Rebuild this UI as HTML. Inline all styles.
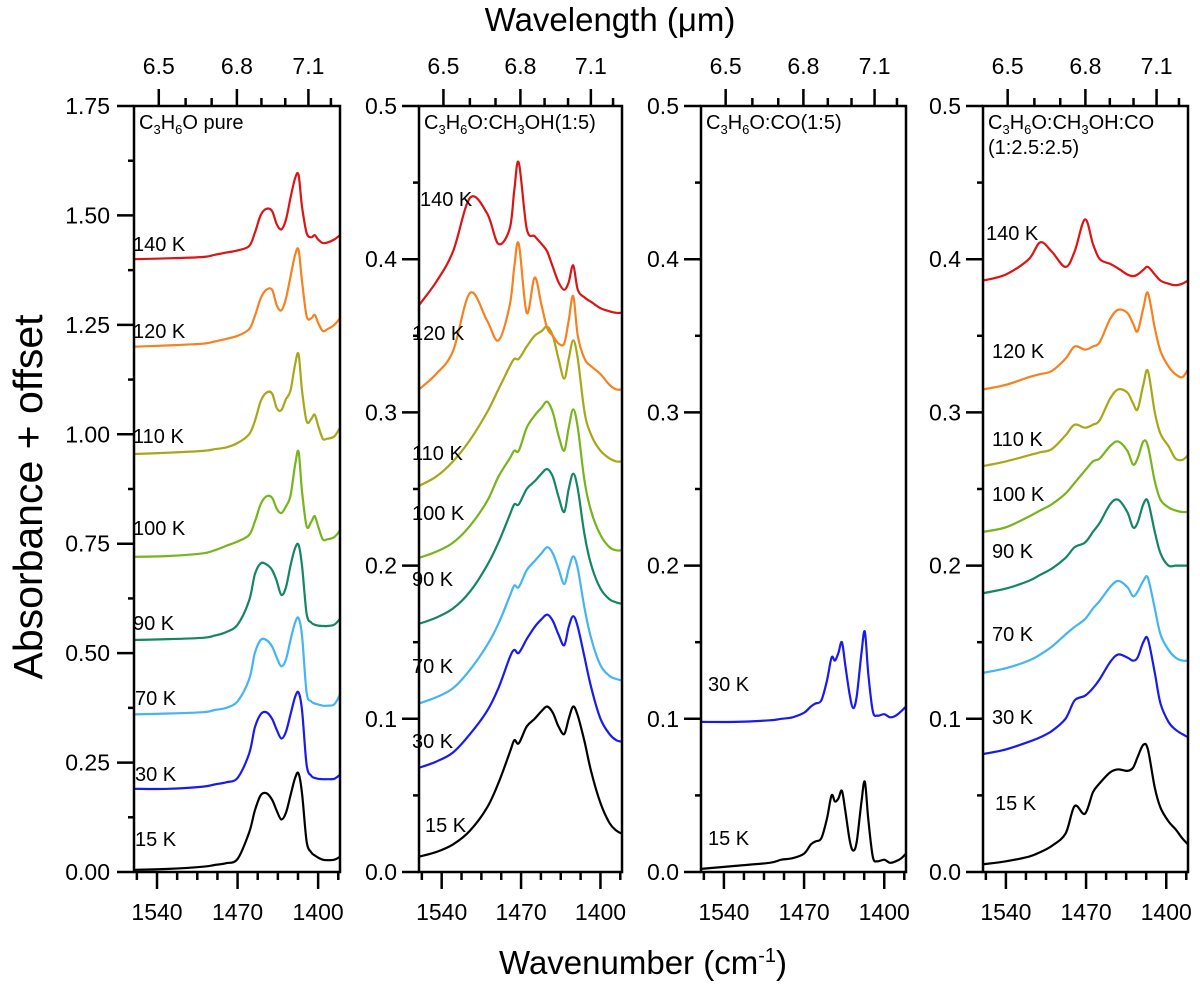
<!DOCTYPE html>
<html><head><meta charset="utf-8">
<style>
html,body{margin:0;padding:0;background:#fff;}
svg{display:block;font-family:"Liberation Sans",Arial,sans-serif;}
</style></head>
<body>
<svg id="fig" width="1200" height="989" viewBox="0 0 1200 989" xmlns="http://www.w3.org/2000/svg">
<text x="610" y="31" font-size="33" text-anchor="middle">Wavelength (μm)</text>
<text x="643" y="974" font-size="33" text-anchor="middle">Wavenumber (cm<tspan font-size="20" dy="-12">-1</tspan><tspan dy="12">)</tspan></text>
<text transform="translate(42,497) rotate(-90)" font-size="41" text-anchor="middle">Absorbance + offset</text>
<g id="plots"></g>
</svg>
<script>
// ---- data ----
const wnGrid1 = [1560,1530,1500,1490,1480,1470,1460,1455,1450,1445,1440,1436,1432,1428,1424,1420,1417,1414,1410,1406,1403,1400,1396,1392,1386,1381];
const p1_15K  = [.005,.007,.012,.016,.02,.03,.09,.14,.175,.18,.165,.14,.12,.135,.175,.215,.225,.18,.07,.045,.038,.033,.028,.027,.028,.035];
const p1_30K  = [.19,.19,.195,.2,.205,.215,.27,.33,.36,.365,.35,.325,.305,.32,.36,.4,.41,.37,.245,.22,.215,.213,.212,.212,.213,.222];
const p1_70K  = [.36,.362,.365,.37,.375,.39,.44,.5,.53,.53,.515,.49,.47,.485,.53,.57,.58,.54,.41,.39,.385,.383,.38,.38,.383,.405];
const p1_90K  = [.53,.532,.535,.54,.548,.565,.62,.68,.705,.703,.69,.665,.633,.65,.7,.74,.747,.7,.59,.57,.565,.563,.562,.562,.565,.578];
const p1_100K = [.72,.722,.728,.735,.745,.755,.77,.8,.84,.858,.855,.83,.82,.835,.86,.93,.96,.87,.79,.8,.813,.79,.76,.76,.765,.78];
const p1_110K = [.955,.958,.962,.966,.97,.98,1.0,1.03,1.075,1.095,1.093,1.06,1.055,1.08,1.1,1.16,1.183,1.1,1.03,1.035,1.045,1.02,.99,.99,.995,1.015];
const p1_120K = [1.2,1.203,1.207,1.212,1.218,1.225,1.24,1.27,1.31,1.33,1.33,1.295,1.283,1.31,1.36,1.41,1.421,1.35,1.27,1.265,1.273,1.255,1.236,1.24,1.25,1.265];
const p1_140K = [1.4,1.402,1.405,1.41,1.415,1.42,1.43,1.46,1.5,1.515,1.51,1.48,1.468,1.49,1.54,1.585,1.592,1.52,1.46,1.45,1.455,1.445,1.437,1.438,1.445,1.455];

const wnGrid2 = [1560,1545,1530,1515,1500,1490,1480,1476,1472,1465,1458,1452,1447,1442,1437,1432,1428,1424,1420,1414,1408,1400,1392,1386,1381];
const p2_15K  = [.01,.013,.018,.027,.042,.058,.078,.086,.084,.095,.1,.105,.108,.104,.095,.09,.1,.108,.102,.085,.065,.045,.032,.027,.025];
const p2_30K  = [.068,.072,.078,.09,.105,.12,.14,.145,.143,.152,.16,.165,.168,.164,.155,.148,.16,.167,.16,.14,.12,.1,.09,.086,.085];
const p2_70K  = [.11,.114,.12,.132,.148,.162,.18,.187,.186,.197,.203,.208,.212,.208,.198,.188,.198,.206,.198,.172,.152,.135,.128,.126,.125];
const p2_90K  = [.162,.166,.172,.183,.2,.215,.233,.24,.24,.25,.255,.26,.263,.258,.245,.235,.25,.26,.25,.22,.2,.185,.178,.176,.175];
const p2_100K = [.205,.209,.215,.226,.242,.258,.27,.275,.275,.29,.298,.303,.307,.3,.285,.275,.29,.302,.29,.255,.235,.22,.212,.21,.21];
const p2_110K = [.252,.258,.268,.282,.3,.315,.33,.335,.335,.343,.35,.353,.356,.35,.335,.322,.335,.347,.335,.3,.285,.275,.27,.268,.268];
const p2_120K = [.315,.325,.34,.378,.36,.347,.37,.395,.41,.365,.388,.37,.355,.35,.345,.345,.36,.376,.35,.335,.33,.325,.318,.315,.315];
const p2_140K = [.37,.385,.405,.44,.43,.41,.42,.445,.463,.42,.415,.41,.405,.395,.385,.38,.385,.396,.38,.375,.372,.368,.366,.365,.365];

const wnGrid3 = [1560,1530,1500,1490,1480,1470,1464,1460,1455,1450,1446,1443,1440,1437,1434,1430,1427,1424,1420,1417,1414,1410,1406,1400,1395,1390,1385,1381];
const p3_15K  = [.002,.004,.006,.008,.009,.012,.018,.02,.022,.035,.05,.046,.048,.053,.04,.02,.014,.02,.045,.059,.035,.01,.007,.008,.006,.007,.009,.012];
const p3_30K  = [.098,.098,.099,.1,.101,.104,.108,.11,.112,.125,.14,.138,.143,.15,.135,.115,.107,.115,.142,.157,.13,.105,.102,.103,.101,.102,.105,.108];

const wnGrid4 = [1560,1540,1520,1510,1500,1488,1480,1471,1464,1458,1449,1442,1434,1429,1425,1420,1416,1410,1405,1398,1392,1386,1381];
const p4_15K  = [.005,.007,.01,.013,.017,.025,.043,.038,.052,.058,.065,.067,.066,.068,.075,.083,.08,.055,.042,.033,.028,.022,.018];
const p4_30K  = [.077,.08,.085,.088,.092,.1,.112,.115,.12,.126,.137,.142,.14,.138,.14,.15,.152,.13,.11,.098,.093,.09,.088];
const p4_70K  = [.13,.133,.138,.142,.147,.155,.16,.165,.172,.177,.186,.19,.186,.18,.183,.19,.192,.172,.155,.145,.14,.138,.138];
const p4_90K  = [.182,.185,.19,.194,.198,.205,.212,.215,.222,.228,.24,.243,.235,.225,.228,.24,.242,.222,.208,.2,.2,.2,.2];
const p4_100K = [.222,.225,.232,.236,.24,.247,.254,.262,.268,.27,.278,.281,.275,.266,.27,.281,.278,.255,.243,.238,.236,.235,.235];
const p4_110K = [.265,.268,.272,.274,.276,.285,.292,.29,.292,.295,.309,.315,.313,.306,.302,.318,.327,.3,.286,.278,.27,.269,.272];
const p4_120K = [.315,.318,.323,.325,.327,.335,.343,.341,.343,.346,.361,.367,.365,.358,.353,.368,.378,.355,.34,.33,.325,.323,.328];
const p4_140K = [.386,.39,.4,.411,.405,.395,.405,.426,.41,.4,.397,.394,.39,.389,.39,.393,.395,.39,.386,.384,.383,.384,.386];

const bottomTicks = [1540,1470,1400];
const topTicks = [6.5,6.8,7.1];
const yTicks1 = ["0.00","0.25","0.50","0.75","1.00","1.25","1.50","1.75"];
const yTicks2 = ["0.0","0.1","0.2","0.3","0.4","0.5"];

const COL = {"15 K":"#000000","30 K":"#1a1aee","70 K":"#45b4f2","90 K":"#13875e","100 K":"#78b41c","110 K":"#a7a718","120 K":"#f5821f","140 K":"#dc1414"};

const panels = [
 {id:"pure", x0:134, x1:340, ymax:1.75, yt:yTicks1, minor:0.125, lx:110,
  title:[["C","3","H","6","O pure"]], grid:wnGrid1,
  series:[["15 K",p1_15K,135,845],["30 K",p1_30K,135,780],["70 K",p1_70K,135,704],["90 K",p1_90K,133,629],["100 K",p1_100K,133,534],["110 K",p1_110K,133,442],["120 K",p1_120K,133,337],["140 K",p1_140K,133,250]]},
 {id:"ch3oh", x0:419, x1:622, ymax:0.5, yt:yTicks2, minor:0.05, lx:397,
  title:[["C","3","H","6","O:CH","3","OH(1:5)"]], grid:wnGrid2,
  series:[["15 K",p2_15K,425,831],["30 K",p2_30K,412,747],["70 K",p2_70K,412,672],["90 K",p2_90K,412,585],["100 K",p2_100K,412,519],["110 K",p2_110K,412,459],["120 K",p2_120K,412,339],["140 K",p2_140K,420,205]]},
 {id:"co", x0:701, x1:906, ymax:0.5, yt:yTicks2, minor:0.05, lx:679,
  title:[["C","3","H","6","O:CO(1:5)"]], grid:wnGrid3,
  series:[["15 K",p3_15K,708,844],["30 K",p3_30K,708,690]]},
 {id:"mix", x0:983, x1:1188, ymax:0.5, yt:yTicks2, minor:0.05, lx:961,
  title:[["C","3","H","6","O:CH","3","OH:CO"],["(1:2.5:2.5)"]], grid:wnGrid4,
  series:[["15 K",p4_15K,995,809],["30 K",p4_30K,992,723],["70 K",p4_70K,992,640],["90 K",p4_90K,992,557],["100 K",p4_100K,992,500],["110 K",p4_110K,992,445],["120 K",p4_120K,992,357],["140 K",p4_140K,986,239]]}
];

const NS="http://www.w3.org/2000/svg";
const root=document.getElementById("plots");
const YT=106, YB=872, WL=1560, WR=1381;
function mk(tag,attrs,parent){const e=document.createElementNS(NS,tag);for(const k in attrs)e.setAttribute(k,attrs[k]);(parent||root).appendChild(e);return e;}
function smoothPath(pts){
  let d="M"+pts[0][0].toFixed(1)+","+pts[0][1].toFixed(1);
  for(let i=0;i<pts.length-1;i++){
    const p0=pts[Math.max(0,i-1)],p1=pts[i],p2=pts[i+1],p3=pts[Math.min(pts.length-1,i+2)];
    const c1x=p1[0]+(p2[0]-p0[0])/6,c1y=p1[1]+(p2[1]-p0[1])/6;
    const c2x=p2[0]-(p3[0]-p1[0])/6,c2y=p2[1]-(p3[1]-p1[1])/6;
    d+="C"+c1x.toFixed(1)+","+c1y.toFixed(1)+" "+c2x.toFixed(1)+","+c2y.toFixed(1)+" "+p2[0].toFixed(1)+","+p2[1].toFixed(1);
  }
  return d;
}
panels.forEach(P=>{
  const g=mk("g",{});
  
  
  const xs=w=>P.x0+(WL-w)*(P.x1-P.x0)/(WL-WR);
  const ys=v=>YB-v*(YB-YT)/P.ymax;
  P.series.forEach(s=>{
    const pts=P.grid.map((w,i)=>[xs(w),ys(s[1][i])]);
    const p=mk("path",{d:smoothPath(pts),fill:"none",stroke:COL[s[0]],"stroke-width":"2.2","stroke-linejoin":"round"},g);
    
    
    const t=mk("text",{x:s[2],y:s[3]+1,"font-size":"20"},g);
    t.textContent=s[0];
    
    
  });
  const fr=mk("rect",{x:P.x0,y:YT,width:P.x1-P.x0,height:YB-YT,fill:"none",stroke:"#000","stroke-width":"2.5"},g);
  
  
  for(let w=1400-17.5*1;w<=1560;w+=17.5){
    const x=xs(w); if(x<P.x0-1||x>P.x1+1) continue;
    const major=bottomTicks.some(b=>Math.abs(b-w)<0.01);
    mk("line",{x1:x,x2:x,y1:YB,y2:YB+(major?17:8),stroke:"#000","stroke-width":"2.5"},g);
  }
  bottomTicks.forEach(b=>{
    const t=mk("text",{x:xs(b),y:920,"font-size":"23","text-anchor":"middle"},g);
    t.textContent=b;
    
    
  });
  for(let um=6.4;um<=7.25;um+=0.1){
    const w=10000/um, x=xs(w); if(x<P.x0-1||x>P.x1+1) continue;
    const major=topTicks.some(b=>Math.abs(b-um)<0.01);
    mk("line",{x1:x,x2:x,y1:YT,y2:YT-(major?17:8),stroke:"#000","stroke-width":"2.5"},g);
  }
  topTicks.forEach(b=>{
    const t=mk("text",{x:xs(10000/b),y:74,"font-size":"23","text-anchor":"middle"},g);
    t.textContent=b.toFixed(1);
    
    
  });
  for(let v=0;v<=P.ymax+1e-6;v+=P.minor){
    const major=Math.abs(Math.round(v/(P.minor*2))*(P.minor*2)-v)<1e-6;
    mk("line",{x1:P.x0,x2:P.x0-(major?17:6),y1:ys(v),y2:ys(v),stroke:"#000","stroke-width":"2.5"},g);
  }
  P.yt.forEach(lbl=>{
    const t=mk("text",{x:P.lx,y:ys(parseFloat(lbl))+8,"font-size":"23","text-anchor":"end"},g);
    t.textContent=lbl;
    
    
  });
  P.title.forEach((line,li)=>{
    const t=mk("text",{x:P.x0+5,y:YT+23+li*25,"font-size":"20"},g);
    
    
    line.forEach((seg,si)=>{
      const sub=(line.length>1 && si%2===1);
      const ts=document.createElementNS(NS,"tspan");
      ts.textContent=seg;
      if(sub){ts.setAttribute("font-size","13");ts.setAttribute("dy","5");}
      else if(si>0){ts.setAttribute("dy","-5");}
      t.appendChild(ts);
    });
  });
});
</script>
</body></html>
